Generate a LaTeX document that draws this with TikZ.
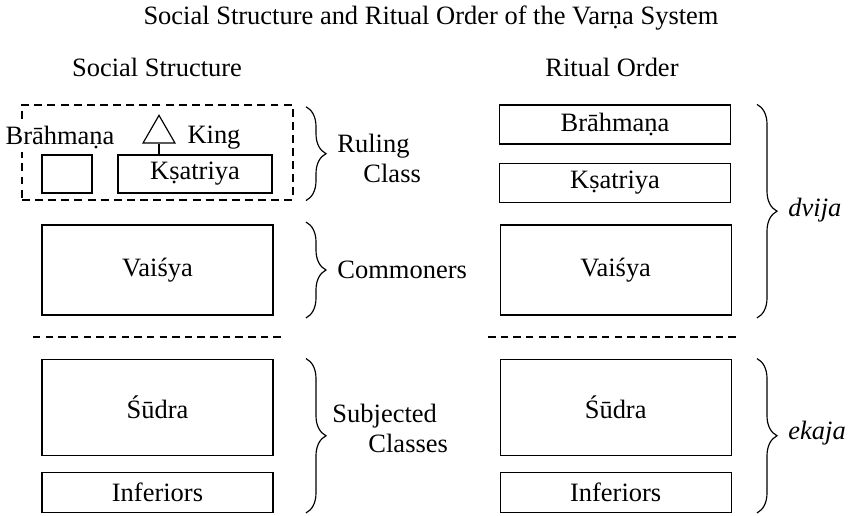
\documentclass[tikz,border=0pt]{standalone}
\usepackage{fontspec}
\setmainfont{Liberation Serif}
\usetikzlibrary{positioning,shapes.geometric,decorations.pathreplacing}

\begin{document}
\begin{tikzpicture}[
    font=\fontsize{11.3}{12.8}\selectfont,
    varna/.style={rectangle,draw,line width=0.5pt,minimum width=3.465cm,inner sep=0pt},
    bigbox/.style={varna,minimum height=1.35cm},
    slimbox/.style={varna,minimum height=0.585cm},
    grouping/.style={rectangle,draw,line width=0.5pt,dash pattern=on 3.4pt off 2.2pt},
    split/.style={line width=0.5pt,dash pattern=on 3.2pt off 2.2pt},
    grp/.style={decorate,decoration={brace,amplitude=0.3cm},line width=0.5pt},
    side/.style={anchor=west,align=left,inner sep=0pt},
    kingmark/.style={regular polygon,regular polygon sides=3,draw,line width=0.5pt,inner sep=0pt,minimum size=0.553cm}
]
\useasboundingbox (0,0) rectangle (12.765,7.74);

% Title and column heads
\node (title) at (6.465,7.47) {Social Structure and Ritual Order of the Varṇa System};
\node (head-l) at (2.355,6.735) {Social Structure};
\node (head-r) at (9.18,6.735) {Ritual Order};

% Ruling class (social structure)
\node[grouping,minimum width=4.065cm,minimum height=1.425cm] (ruling) at (2.3625,5.4525) {};
\node[varna,minimum width=0.75cm,minimum height=0.57cm] (brah-l) at (1.005,5.13) {};
\node[varna,minimum width=2.31cm,minimum height=0.57cm] (ksat-l) at (2.925,5.13) {Kṣatriya};
\node[fill=white,inner sep=1pt] (brah-l-text) at (0.9,5.67) {Brāhmaṇa};
\node[kingmark] (king) at (2.385,5.733) {};
\node (king-text) at (3.21,5.67) {King};
\draw[line width=0.5pt] (king.south) -- (king.south |- ksat-l.north);

% Commoners and subjected classes
\node[bigbox] (vais-l) at (2.3625,3.69) {Vaiśya};
\node[varna,minimum height=1.44cm,below=0.645cm of vais-l] (sudra-l) {Śūdra};
\node[varna,minimum height=0.6cm,below=0.24cm of sudra-l] (infer-l) {Inferiors};

% Ritual order
\node[slimbox] (brah-r) at (9.225,5.8725) {Brāhmaṇa};
\node[slimbox,below=0.27cm of brah-r] (ksat-r) {Kṣatriya};
\node[bigbox,right=3.39cm of vais-l] (vais-r) {Vaiśya};
\node[varna,minimum height=1.44cm,right=3.39cm of sudra-l] (sudra-r) {Śūdra};
\node[varna,minimum height=0.6cm,right=3.39cm of infer-l] (infer-r) {Inferiors};

% Dividers
\coordinate (cut-l) at (0.495,2.685);
\coordinate (cut-r) at (7.32,2.685);
\draw[split] (cut-l) -- ++(3.78,0);
\draw[split] (cut-r) -- ++(3.78,0);

% Braces
\coordinate (brace-l) at (4.59,0);
\coordinate (brace-r) at (11.355,0);
\draw[grp] ([yshift=-1pt]ruling.north -| brace-l) -- (ruling.south -| brace-l);
\draw[grp] ([yshift=1pt]vais-l.north -| brace-l) -- ([yshift=-1pt]vais-l.south -| brace-l);
\draw[grp] (sudra-l.north -| brace-l) -- (infer-l.south -| brace-l);
\draw[grp] (brah-r.north -| brace-r) -- ([yshift=-1pt]vais-r.south -| brace-r);
\draw[grp] (sudra-r.north -| brace-r) -- (infer-r.south -| brace-r);

\node[side] (ruling-text) at (5.055,5.37) {Ruling\\\hspace*{0.39cm}Class};
\node[side] (common-text) at (5.055,3.69) {Commoners};
\node[side] (subject-text) at (4.98,1.32) {Subjected\\\hspace*{0.54cm}Classes};
\node[side,font=\fontsize{11.3}{12.8}\selectfont\itshape] (dvija-text) at (11.82,4.59) {dvija};
\node[side,font=\fontsize{11.3}{12.8}\selectfont\itshape] (ekaja-text) at (11.82,1.24) {ekaja};

\end{tikzpicture}
\end{document}
